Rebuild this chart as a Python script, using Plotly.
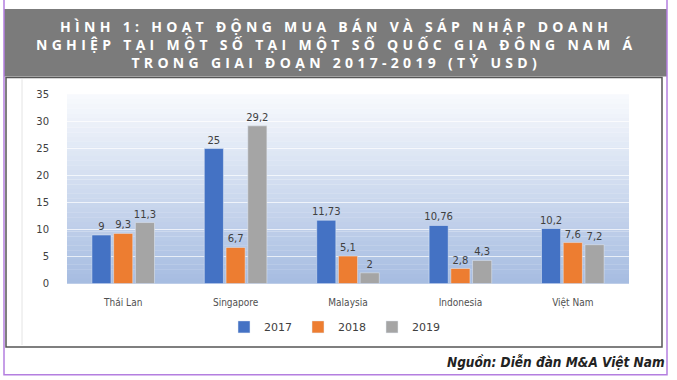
import plotly.graph_objects as go

categories = ["Thái Lan", "Singapore", "Malaysia", "Indonesia", "Việt Nam"]
years = ["2017", "2018", "2019"]
values_2017 = [9, 25, 11.73, 10.76, 10.2]
values_2018 = [9.3, 6.7, 5.1, 2.8, 7.6]
values_2019 = [11.3, 29.2, 2, 4.3, 7.2]
y_ticks = [0, 5, 10, 15, 20, 25, 30, 35]
title_lines = [
    "HÌNH 1: HOẠT ĐỘNG MUA BÁN VÀ SÁP NHẬP DOANH",
    "NGHIỆP TẠI MỘT SỐ TẠI MỘT SỐ QUỐC GIA ĐÔNG NAM Á",
    "TRONG GIAI ĐOẠN 2017-2019 (TỶ USD)",
]
source_text = "Nguồn: Diễn đàn M&A Việt Nam"

series = [values_2017, values_2018, values_2019]
colors = ["#4472C4", "#ED7D31", "#A5A5A5"]

W, H = 677, 380
def px(x):
    return x / W
def py(y):
    # vertical placement, corrected for the small vertical offset/scale seen in the render
    yp = (y - 6) / 0.968
    return 1 - yp / H

fig = go.Figure()
for name, vals, col in zip(years, series, colors):
    fig.add_trace(go.Bar(
        x=categories, y=vals, name=name, marker_color=col,
        text=[f"{v:g}".replace(".", ",") for v in vals],
        textposition="outside", cliponaxis=False, constraintext="none",
        textfont=dict(family="DejaVu Sans", size=10, color="#404040"),
    ))

shapes = []
n = 40
top = (0xF8, 0xFA, 0xFD)
bot = (0xA6, 0xBC, 0xE1)
for i in range(n):
    t = (i + 0.5) / n
    c = tuple(int(round(top[k] + (bot[k] - top[k]) * t)) for k in range(3))
    shapes.append(dict(type="rect", xref="x domain", yref="y domain",
                       x0=0, x1=1, y0=1 - (i + 1) / n, y1=1 - i / n + 0.001,
                       fillcolor="rgb(%d,%d,%d)" % c, line_width=0, layer="below"))
shapes.append(dict(type="rect", xref="paper", yref="paper",
                   x0=px(4), x1=px(667), y0=py(77), y1=py(10),
                   fillcolor="#7b7b7b", line_width=0, layer="below"))
shapes.append(dict(type="line", xref="paper", yref="paper",
                   x0=px(22), x1=px(22), y0=py(344), y1=py(80),
                   line=dict(color="#e4e4e4", width=1), layer="below"))
shapes.append(dict(type="rect", xref="paper", yref="paper",
                   x0=px(6), x1=px(662), y0=py(346), y1=py(78),
                   fillcolor="rgba(0,0,0,0)", line=dict(color="#555555", width=1.5), layer="below"))
shapes.append(dict(type="rect", xref="paper", yref="paper",
                   x0=px(4), x1=px(667), y0=py(373.5), y1=py(-20),
                   fillcolor="rgba(0,0,0,0)", line=dict(color="#B47FE0", width=1.5), layer="below"))

title_html = "<br>".join('<span style="letter-spacing:4.3px"><b>' + s + "</b></span>" for s in title_lines)
annotations = [
    dict(xref="paper", yref="paper", x=px(336), y=py(45), xanchor="center", yanchor="middle",
         text=title_html, showarrow=False, align="center",
         font=dict(family="Open Sans", size=14, color="white")),
    dict(xref="paper", yref="paper", x=px(667), y=py(361), xanchor="right", yanchor="middle",
         text="<b><i>" + source_text + "</i></b>", showarrow=False,
         font=dict(family="DejaVu Sans Condensed", size=13.5, color="#222222")),
]

fig.update_layout(
    width=W, height=H,
    margin=dict(l=0, r=0, t=0, b=0),
    paper_bgcolor="white", plot_bgcolor="rgba(0,0,0,0)",
    barmode="group", bargap=0.42, bargroupgap=0.12,
    shapes=shapes,
    showlegend=True,
    legend=dict(orientation="h", x=px(335), y=py(326), xanchor="center", yanchor="middle",
                font=dict(family="DejaVu Sans", size=11, color="#404040"),
                itemwidth=30, entrywidth=29, traceorder="normal"),
    xaxis=dict(domain=[px(67), px(629)], showgrid=False, showline=False, ticks="",
               ticklabelstandoff=11,
               tickfont=dict(family="DejaVu Sans Condensed, DejaVu Sans", size=10, color="#505050")),
    yaxis=dict(domain=[py(283), py(95)], range=[0, 35], tickvals=y_ticks,
               showgrid=True, gridcolor="rgba(255,255,255,0.7)", gridwidth=1,
               zeroline=False, showline=False, ticks="", ticklabelstandoff=17,
               tickfont=dict(family="DejaVu Sans", size=10, color="#404040")),
    annotations=annotations,
)

fig.write_html("out.html", config={"displayModeBar": False},
               post_script="document.documentElement.style.margin='0';document.body.style.margin='0';"
                           "document.documentElement.style.overflow='hidden';document.body.style.overflow='hidden';")
